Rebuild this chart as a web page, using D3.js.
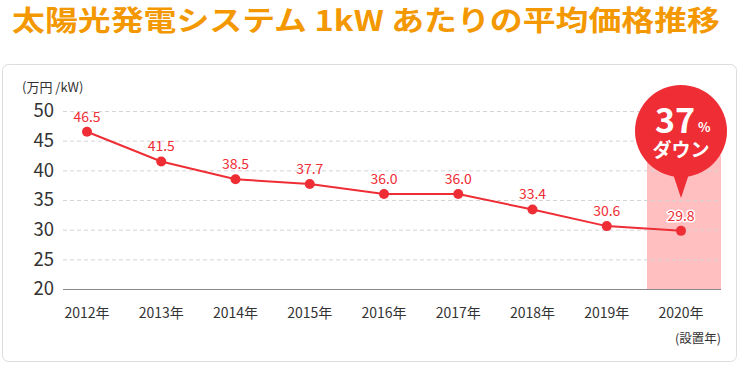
<!DOCTYPE html>
<html>
<head>
<meta charset="utf-8">
<script src="https://cdn.jsdelivr.net/npm/d3@7"></script>
<style>
  body { margin: 0; background: #fff; }
  svg { display: block; font-family: "Noto Sans CJK JP", "Noto Sans", sans-serif; }
</style>
</head>
<body>
<div id="chart"></div>
<script>
// data
var years = ["2012年", "2013年", "2014年", "2015年", "2016年", "2017年", "2018年", "2019年", "2020年"];
var prices = [46.5, 41.5, 38.5, 37.7, 36.0, 36.0, 33.4, 30.6, 29.8];
var yTicks = [20, 25, 30, 35, 40, 45, 50];

var W = 740, H = 365;
var red = "#ee2d35";

var svg = d3.select("#chart").append("svg")
    .attr("width", W).attr("height", H);

// title
svg.append("text")
    .attr("x", 12).attr("y", 31)
    .attr("fill", "#f39800")
    .attr("textLength", 708)
    .attr("lengthAdjust", "spacingAndGlyphs")
    .style("font-size", "28px").style("font-weight", "700")
    .text("太陽光発電システム 1kW あたりの平均価格推移");

// panel
svg.append("rect")
    .attr("x", 2.5).attr("y", 64.5).attr("width", 734).attr("height", 297)
    .attr("rx", 6)
    .attr("fill", "#fff").attr("stroke", "#dcdcdc");

//************* scales ***************/
var x = d3.scalePoint().domain(years).range([87, 681]);
var y = d3.scaleLinear().domain([20, 50]).range([289, 111]);

// highlight band for last year
var last = years[years.length - 1];
svg.append("rect")
    .attr("x", x(last) - 34).attr("y", y(42.5))
    .attr("width", 74).attr("height", y(20) - y(42.5))
    .attr("fill", "#ffbfc1");

// grid
svg.append("g")
  .selectAll("line")
  .data(yTicks.filter(function(d){ return d > 20; }))
  .enter().append("line")
    .attr("x1", 63).attr("x2", 721)
    .attr("y1", function(d){ return y(d) + 0.5; })
    .attr("y2", function(d){ return y(d) + 0.5; })
    .attr("stroke", "#d4d4d4")
    .attr("stroke-dasharray", "4,3");

// baseline
svg.append("line")
    .attr("x1", 63).attr("x2", 721)
    .attr("y1", y(20) + 0.5).attr("y2", y(20) + 0.5)
    .attr("stroke", "#8a8a8a").attr("stroke-width", 1.2);

// y labels
svg.append("g")
  .selectAll("text")
  .data(yTicks)
  .enter().append("text")
    .attr("x", 54).attr("y", function(d){ return y(d); })
    .attr("dy", "0.35em")
    .attr("text-anchor", "end")
    .attr("fill", "#333")
    .style("font-size", "18.5px")
    .text(function(d){ return d; });

svg.append("text")
    .attr("x", 22).attr("y", 92)
    .attr("fill", "#333").style("font-size", "13px")
    .text("(万円 /kW)");

// x labels
svg.append("g")
  .selectAll("text")
  .data(years)
  .enter().append("text")
    .attr("x", function(d){ return x(d); })
    .attr("y", 318)
    .attr("text-anchor", "middle")
    .attr("fill", "#333")
    .style("font-size", "14px")
    .text(function(d){ return d; });

svg.append("text")
    .attr("x", 721).attr("y", 343)
    .attr("text-anchor", "end")
    .attr("fill", "#333").style("font-size", "12.5px")
    .text("(設置年)");

// line
var line = d3.line()
    .x(function(d, i){ return x(years[i]); })
    .y(function(d){ return y(d); });

svg.append("path")
    .datum(prices)
    .attr("d", line)
    .attr("fill", "none")
    .attr("stroke", red)
    .attr("stroke-width", 2);

svg.append("g")
  .selectAll("circle")
  .data(prices)
  .enter().append("circle")
    .attr("cx", function(d, i){ return x(years[i]); })
    .attr("cy", function(d){ return y(d); })
    .attr("r", 5)
    .attr("fill", red);

// value labels
svg.append("g")
  .selectAll("text")
  .data(prices)
  .enter().append("text")
    .attr("x", function(d, i){ return x(years[i]); })
    .attr("y", function(d){ return y(d) - 10; })
    .attr("text-anchor", "middle")
    .attr("fill", red)
    .attr("stroke", function(d, i){ return i == prices.length - 1 ? "#fff" : "none"; })
    .attr("stroke-width", 3)
    .attr("paint-order", "stroke")
    .style("font-size", "14px")
    .text(function(d){ return d.toFixed(1); });

// bubble
var bx = x(last), by = 131;
var bub = svg.append("g");
bub.append("path")
    .attr("d", "M" + (bx - 9) + "," + (by + 40) + " L" + bx + "," + (by + 67) + " L" + (bx + 9) + "," + (by + 40) + " Z")
    .attr("fill", red);
bub.append("circle")
    .attr("cx", bx).attr("cy", by).attr("r", 46)
    .attr("fill", red);
bub.append("text")
    .attr("x", bx - 6).attr("y", by + 2)
    .attr("text-anchor", "middle")
    .attr("fill", "#fff")
    .style("font-size", "34px").style("font-weight", "700")
    .text("37");
bub.append("text")
    .attr("x", bx + 17).attr("y", by + 1)
    .attr("fill", "#fff")
    .style("font-size", "13px").style("font-weight", "700")
    .text("%");
bub.append("text")
    .attr("x", bx).attr("y", by + 26)
    .attr("text-anchor", "middle")
    .attr("fill", "#fff")
    .style("font-size", "19px").style("font-weight", "700")
    .text("ダウン");
</script>
</body>
</html>
